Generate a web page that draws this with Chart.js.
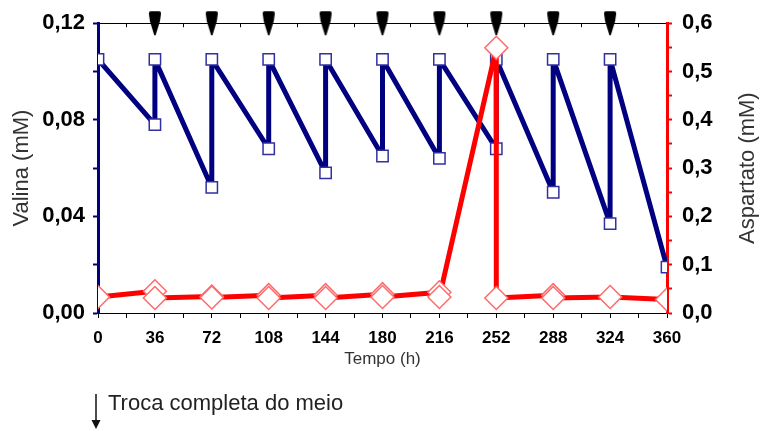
<!DOCTYPE html>
<html>
<head>
<meta charset="utf-8">
<script src="https://cdn.jsdelivr.net/npm/chart.js@4.4.1/dist/chart.umd.min.js"></script>
<style>
html, body { margin: 0; padding: 0; background: #fff; }
#wrap { position: relative; width: 760px; height: 430px; }
#legend { position: absolute; left: 90px; top: 390px; height: 40px; font: 22px "Liberation Sans", Arial, sans-serif; color: #222; }
#legend svg { position: absolute; left: 0; top: 2px; }
#legend span { position: absolute; left: 18px; top: 0; line-height: 26px; white-space: nowrap; }
</style>
</head>
<body>
<div id="wrap">
  <canvas id="chart" width="760" height="430"></canvas>
  <div id="legend">
    <svg width="14" height="40" viewBox="0 0 14 40">
      <line x1="6" y1="2" x2="6" y2="30" stroke="#111" stroke-width="1.5"/>
      <polygon points="1.5,28 10.5,28 6,37" fill="#111"/>
    </svg>
    <span>Troca completa do meio</span>
  </div>
</div>
<script>
// tempo (h) e valores
const timeTicks = [0, 36, 72, 108, 144, 180, 216, 252, 288, 324, 360];
const mediaChangeTimes = [36, 72, 108, 144, 180, 216, 252, 288, 324];

const valinaTime = [0, 36, 36, 72, 72, 108, 108, 144, 144, 180, 180, 216, 216, 252, 252, 288, 288, 324, 324, 360];
const valinaValues = [0.105, 0.078, 0.105, 0.052, 0.105, 0.068, 0.105, 0.058, 0.105, 0.065, 0.105, 0.064, 0.105, 0.068, 0.105, 0.050, 0.105, 0.037, 0.105, 0.019];

const aspartatoTime = [0, 36, 36, 72, 72, 108, 108, 144, 144, 180, 180, 216, 216, 252, 252, 288, 288, 324, 360];
const aspartatoValues = [0.033, 0.045, 0.031, 0.034, 0.032, 0.037, 0.031, 0.037, 0.031, 0.039, 0.033, 0.043, 0.033, 0.549, 0.031, 0.037, 0.031, 0.033, 0.028];

const sans = '"Liberation Sans", Arial, sans-serif';

// marcador da troca de meio (seta preta)
const arrowImg = document.createElement('canvas');
arrowImg.width = 14;
arrowImg.height = 26;
const a = arrowImg.getContext('2d');
a.fillStyle = '#000';
a.beginPath();
a.moveTo(3, 1);
a.lineTo(11, 1);
a.quadraticCurveTo(13.5, 1, 13, 4);
a.lineTo(12, 11);
a.lineTo(7.7, 25);
a.lineTo(6.3, 25);
a.lineTo(2, 11);
a.lineTo(1, 4);
a.quadraticCurveTo(0.5, 1, 3, 1);
a.closePath();
a.fill();

function pairs(xs, ys) {
    return xs.map((x, i) => ({ x: x, y: ys[i] }));
}

// titulo do eixo direito, lido de baixo para cima
const rightTitle = {
    id: 'rightTitle',
    afterDraw(chart) {
        const ctx = chart.ctx;
        const area = chart.chartArea;
        ctx.save();
        ctx.translate(748, (area.top + area.bottom) / 2);
        ctx.rotate(-Math.PI / 2);
        ctx.font = '22px ' + sans;
        ctx.fillStyle = '#333';
        ctx.textAlign = 'center';
        ctx.textBaseline = 'middle';
        ctx.fillText('Aspartato (mM)', 0, 0);
        ctx.restore();
    }
};

new Chart(document.getElementById('chart'), {
    type: 'line',
    data: {
        datasets: [
            {
                label: 'Aspartato',
                data: pairs(aspartatoTime, aspartatoValues),
                yAxisID: 'y1',
                order: 0,
                borderColor: '#ff0000',
                borderWidth: 5,
                borderJoinStyle: 'round',
                pointStyle: 'rectRot',
                pointRadius: 11.5,
                pointBorderWidth: 1.5,
                pointBorderColor: '#ff6a6a',
                pointBackgroundColor: '#ffffff'
            },
            {
                label: 'Valina',
                data: pairs(valinaTime, valinaValues),
                yAxisID: 'y',
                order: 1,
                borderColor: '#000080',
                borderWidth: 5,
                borderJoinStyle: 'round',
                pointStyle: 'rect',
                pointRadius: 8,
                pointBorderWidth: 1.5,
                pointBorderColor: '#3030a0',
                pointBackgroundColor: '#ffffff'
            },
            {
                label: 'Troca completa do meio',
                data: mediaChangeTimes.map(t => ({ x: t, y: 0.12 })),
                yAxisID: 'y',
                order: 2,
                showLine: false,
                clip: false,
                pointStyle: arrowImg,
                pointRadius: 10
            }
        ]
    },
    options: {
        responsive: false,
        animation: false,
        layout: { padding: 0 },
        plugins: { legend: { display: false }, tooltip: { enabled: false } },
        scales: {
            x: {
                type: 'linear',
                position: 'bottom',
                min: 0,
                max: 360,
                afterFit: s => { s.height = 117; },
                ticks: {
                    stepSize: 18,
                    autoSkip: false,
                    maxRotation: 0,
                    padding: 10,
                    color: '#000',
                    font: { family: sans, size: 17, weight: 'bold' },
                    callback: v => (timeTicks.includes(v) ? String(v) : '')
                },
                grid: { drawOnChartArea: false, tickLength: 5, tickColor: '#000', tickWidth: 1 },
                border: { color: '#000', width: 1 },
                title: {
                    display: true,
                    text: 'Tempo (h)',
                    color: '#333',
                    font: { family: sans, size: 17 },
                    padding: { top: 0, bottom: 60 }
                }
            },
            x2: {
                type: 'linear',
                position: 'top',
                min: 0,
                max: 360,
                afterFit: s => { s.height = 20; },
                ticks: { display: false, stepSize: 18 },
                grid: { drawOnChartArea: false, tickLength: -4, tickColor: '#000', tickWidth: 1 },
                border: { color: '#000', width: 1 }
            },
            y: {
                position: 'left',
                min: 0,
                max: 0.12,
                afterFit: s => { s.width = 98; },
                ticks: {
                    stepSize: 0.02,
                    autoSkip: false,
                    padding: 8,
                    color: '#000',
                    font: { family: sans, size: 22, weight: 'bold' },
                    callback: v => (Math.round(v * 100) % 4 === 0 ? v.toFixed(2).replace('.', ',') : '')
                },
                grid: { drawOnChartArea: false, tickLength: 5, tickColor: '#000080', tickWidth: 2 },
                border: { color: '#000080', width: 3 },
                title: {
                    display: true,
                    text: 'Valina (mM)',
                    color: '#333',
                    font: { family: sans, size: 22 },
                    padding: { top: 9, bottom: 0 }
                }
            },
            y1: {
                position: 'right',
                min: 0,
                max: 0.6,
                afterFit: s => { s.width = 93; },
                ticks: {
                    stepSize: 0.05,
                    autoSkip: false,
                    padding: 10,
                    color: '#000',
                    font: { family: sans, size: 22, weight: 'bold' },
                    callback: v => (Math.round(v * 100) % 10 === 0 ? v.toFixed(1).replace('.', ',') : '')
                },
                grid: { drawOnChartArea: false, tickLength: 5, tickColor: '#ff0000', tickWidth: 2 },
                border: { color: '#ff0000', width: 3 }
            }
        }
    },
    plugins: [rightTitle]
});
</script>
</body>
</html>
